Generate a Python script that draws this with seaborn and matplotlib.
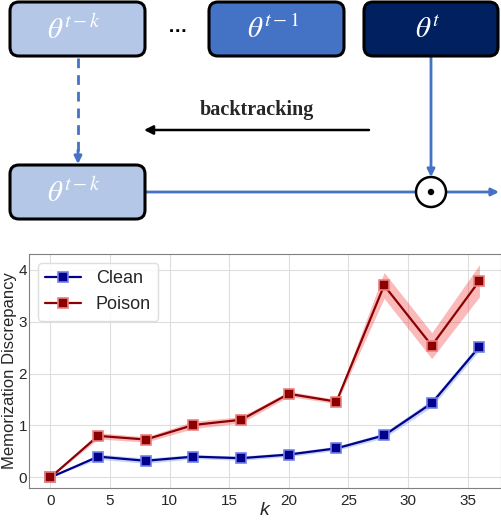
import numpy as np
import pandas as pd
import seaborn as sns
import matplotlib
matplotlib.use("Agg")
import matplotlib.pyplot as plt
from matplotlib.patches import FancyBboxPatch, Circle

# ---------------- data ----------------
k = [0, 4, 8, 12, 16, 20, 24, 28, 32, 36]
clean_mean = [0.00, 0.40, 0.32, 0.40, 0.37, 0.44, 0.56, 0.81, 1.43, 2.52]
clean_std = [0.00, 0.05, 0.05, 0.04, 0.04, 0.04, 0.04, 0.05, 0.07, 0.07]
poison_mean = [0.00, 0.80, 0.73, 1.01, 1.11, 1.61, 1.46, 3.70, 2.54, 3.79]
poison_std = [0.00, 0.06, 0.05, 0.07, 0.06, 0.05, 0.04, 0.25, 0.25, 0.31]
series_names = ["Clean", "Poison"]
xticks = [0, 5, 10, 15, 20, 25, 30, 35]
yticks = [0, 1, 2, 3, 4]

sns.set_style("whitegrid", {"axes.edgecolor": "0.5", "grid.color": "0.87",
                            "axes.linewidth": 1.2})
plt.rcParams["font.family"] = ["Liberation Sans", "DejaVu Sans"]
plt.rcParams["mathtext.fontset"] = "stix"

fig = plt.figure(figsize=(5.02, 5.2), dpi=100)

# ---------------- diagram (pixel coordinates) ----------------
ad = fig.add_axes([0, 0, 1, 1])
ad.set_xlim(0, 502)
ad.set_ylim(520, 0)
ad.axis("off")

blue = "#4472C4"
boxes = [
    (10, 2, 135, 54, "#B4C7E7", r"$\theta^{t-k}$"),
    (209, 2, 135, 54, "#4472C4", r"$\theta^{t-1}$"),
    (364, 2, 134, 54, "#002060", r"$\theta^{t}$"),
    (10, 165, 135, 54, "#B4C7E7", r"$\theta^{t-k}$"),
]
for x0, y0, w, h, fc, lab in boxes:
    ad.add_patch(FancyBboxPatch((x0, y0), w, h,
                                boxstyle="round,pad=0,rounding_size=9",
                                fc=fc, ec="black", lw=2.2, zorder=3))
    ad.text(x0 + w / 2 - 3, y0 + h / 2 + 1, lab, color="white", fontsize=21,
            ha="center", va="center", zorder=4)

ad.text(178, 28, "…", fontsize=14, fontweight="bold", ha="center",
        va="center", color="black")

# dashed arrow down
ad.plot([78, 78], [58, 152], color=blue, lw=2, ls=(0, (3.5, 2.5)), zorder=2)
ad.annotate("", xy=(78, 164), xytext=(78, 150),
            arrowprops=dict(arrowstyle="-|>", color=blue, lw=2,
                            mutation_scale=11, shrinkA=0, shrinkB=0))

# backtracking arrow
ad.text(257, 110, "backtracking", fontsize=14.5, fontweight="bold",
        family="Liberation Serif", ha="center", va="center")
ad.annotate("", xy=(144, 130), xytext=(369, 130),
            arrowprops=dict(arrowstyle="-|>", color="black", lw=1.8,
                            mutation_scale=13, shrinkA=0, shrinkB=0))

# horizontal output arrow
ad.annotate("", xy=(499, 192), xytext=(145, 192),
            arrowprops=dict(arrowstyle="-|>", color=blue, lw=2,
                            mutation_scale=11, shrinkA=0, shrinkB=0), zorder=2)
# vertical arrow from theta^t
ad.annotate("", xy=(431, 177), xytext=(431, 57),
            arrowprops=dict(arrowstyle="-|>", color=blue, lw=2,
                            mutation_scale=11, shrinkA=0, shrinkB=0), zorder=2)
ad.add_patch(Circle((431, 192), 15, fc="white", ec="black", lw=1.8, zorder=5))
ad.add_patch(Circle((431, 192), 3.2, fc="black", ec="none", zorder=6))

# ---------------- line chart ----------------
ax = fig.add_axes([0.0578, 0.0615, 0.940, 0.45])

styles = {
    "Clean": dict(color="#00008B", mec=(0.45, 0.5, 0.92), fill="#4F7FE0"),
    "Poison": dict(color="#8B0000", mec=(0.92, 0.5, 0.5), fill="#F03030"),
}
data = {"Clean": (clean_mean, clean_std), "Poison": (poison_mean, poison_std)}

for name in series_names:
    m, s = data[name]
    st = styles[name]
    df = pd.DataFrame({"k": k, "value": m})
    m_arr = np.array(m)
    s_arr = np.array(s)
    ax.fill_between(k, m_arr - s_arr, m_arr + s_arr, color=st["fill"],
                    alpha=0.33, lw=0, zorder=2)
    sns.lineplot(data=df, x="k", y="value", ax=ax, color=st["color"],
                 marker="s", markersize=7, linewidth=1.6, mec=st["mec"],
                 mew=1.2, label=name, zorder=3)

ax.set_xticks(xticks)
ax.set_yticks(yticks)
ax.tick_params(axis="x", labelsize=11, length=0, pad=4, colors="0.15")
ax.tick_params(axis="y", labelsize=11, length=0, pad=1.5, colors="0.15")
ax.set_xlabel("k", fontsize=14, fontstyle="italic", labelpad=-4, color="0.15")
ax.set_ylabel("Memorization Discrepancy", fontsize=12, labelpad=1, color="0.15")
ax.margins(x=0.05, y=0.05)

leg = ax.legend(loc="upper left", fontsize=13, frameon=True, fancybox=True,
                framealpha=0.85, edgecolor="0.85", handlelength=2.0)
for t in leg.get_texts():
    t.set_color("0.15")

fig.savefig("out.png", dpi=100)
